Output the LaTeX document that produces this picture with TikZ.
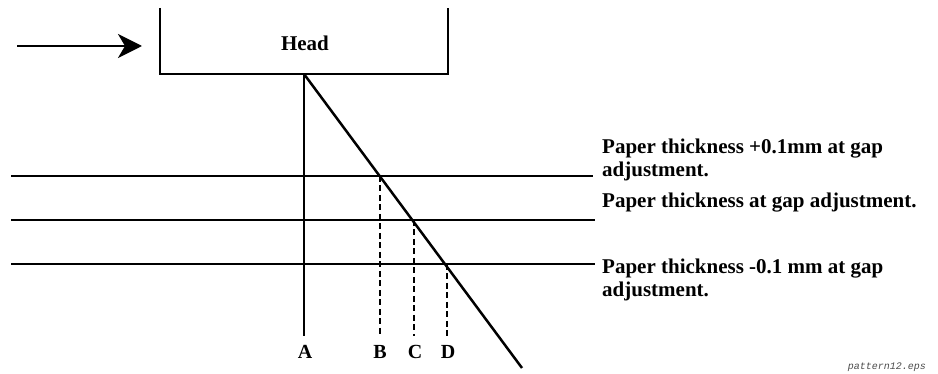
\documentclass[tikz,border=0pt]{standalone}
\usepackage{fontspec}
\setmainfont{Liberation Serif}
\setmonofont{Liberation Mono}
\usetikzlibrary{arrows.meta}
\begin{document}
\begin{tikzpicture}[x=1pt,y=-1pt,
  ln/.style={line width=2.5pt,black},
  dsh/.style={line width=2.5pt,black,dash pattern=on 6pt off 3.5pt},
  lbl/.style={font=\bfseries\fontsize{20}{22}\selectfont,inner sep=0pt,anchor=base},
  side/.style={font=\bfseries\fontsize{21}{22.5}\selectfont,inner sep=0pt,anchor=base west,align=left}]
\useasboundingbox (0,0) rectangle (938,374);
% head box
\coordinate (hl) at (160,8);
\coordinate (hr) at (448,8);
\coordinate (hbl) at (160,74);
\coordinate (hbr) at (448,74);
\coordinate (P) at (304,74);
\draw[ln] (hl) -- (hbl) -- (hbr) -- (hr);
\node[font=\bfseries\fontsize{21}{22}\selectfont,inner sep=0pt,anchor=base] (head) at (305,51) {Head};
% arrow
\coordinate (a1) at (17,46);
\coordinate (a2) at (142,46);
\draw[ln,-{Stealth[length=24pt,width=24pt,inset=7pt]}] (a1) -- (a2);
% vertical A
\coordinate (Abot) at (304,336);
\draw[ln] (P) -- (Abot);
% diagonal
\coordinate (Q) at (522,368);
\draw[ln] (P) -- (Q);
% horizontal lines
\coordinate (l1a) at (11,176); \coordinate (l1b) at (593,176);
\coordinate (l2a) at (11,220); \coordinate (l2b) at (595,220);
\coordinate (l3a) at (11,264); \coordinate (l3b) at (595,264);
\draw[ln] (l1a) -- (l1b);
\draw[ln] (l2a) -- (l2b);
\draw[ln] (l3a) -- (l3b);
% intersections and dashed drops
\coordinate (Bt) at (380,176); \coordinate (Bb) at (380,336);
\coordinate (Ct) at (414,220); \coordinate (Cb) at (414,336);
\coordinate (Dt) at (447,264); \coordinate (Db) at (447,336);
\draw[dsh] (Bt) -- (Bb);
\draw[dsh] (Ct) -- (Cb);
\draw[dsh] (Dt) -- (Db);
% letters
\node[lbl] (A) at (305,359) {A};
\node[lbl] (B) at (380,359) {B};
\node[lbl] (C) at (415,359) {C};
\node[lbl] (D) at (448,359) {D};
% side labels (base = last line)
\node[side] (t1) at (602,176.5) {Paper thickness +0.1mm at gap\\adjustment.};
\node[side] (t2) at (602,208) {Paper thickness at gap adjustment.};
\node[side] (t3) at (602,296.5) {Paper thickness -0.1 mm at gap\\adjustment.};
% file name
\node[font=\ttfamily\itshape\fontsize{10}{12}\selectfont,text=black!70,anchor=east,inner sep=0pt] (fn) at (926,367) {pattern12.eps};
\end{tikzpicture}
\end{document}
